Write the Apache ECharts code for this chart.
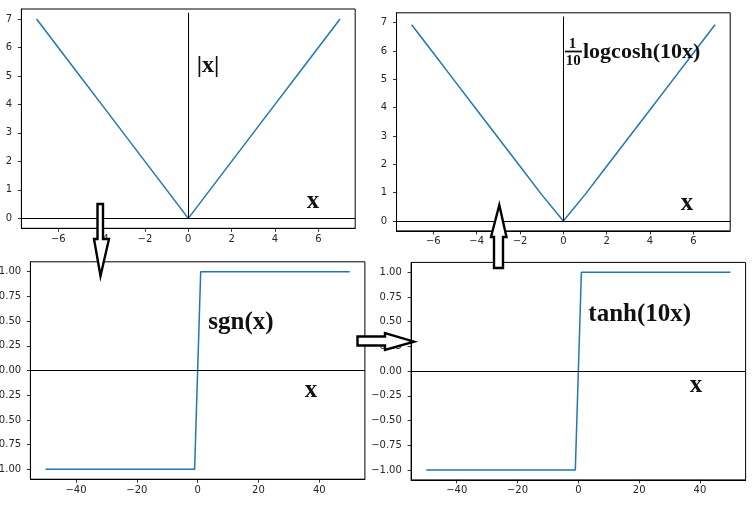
<!DOCTYPE html>
<html>
<head>
<meta charset="utf-8">
<script src="https://cdn.jsdelivr.net/npm/echarts@6/dist/echarts.min.js"></script>
<style>
html,body{margin:0;padding:0;background:#fff;}
#c{width:752px;height:510px;}
</style>
</head>
<body>
<div id="c"></div>
<script>
// ---- data ----
const absX = [-7,-6,-5,-4,-3,-2,-1,0,1,2,3,4,5,6,7];
const absY = [7,6,5,4,3,2,1,0,1,2,3,4,5,6,7];
const logcoshX = [-7,-6,-5,-4,-3,-2,-1,0,1,2,3,4,5,6,7];
const logcoshY = [6.93,5.93,4.93,3.93,2.93,1.93,0.93,0,0.93,1.93,2.93,3.93,4.93,5.93,6.93];
const sgnX = [-50,-1,0,1,50];
const sgnY = [-1,-1,0,1,1];
const tanhX = [-50,-1,0,1,50];
const tanhY = [-1,-1,0,1,1];
const topXTicks = [-6,-4,-2,0,2,4,6];
const topYTicks = [0,1,2,3,4,5,6,7];
const botXTicks = [-40,-20,0,20,40];
const botYTicks = [-1,-0.75,-0.5,-0.25,0,0.25,0.5,0.75,1];
const labels = ['|x|','1','10','logcosh(10x)','sgn(x)','tanh(10x)','x'];

function pairs(xs, ys){ return xs.map((x,i)=>[x, ys[i]]); }
const minus = v => (v < 0 ? '\u2212' : '') + Math.abs(v);
const minus2 = v => (v < 0 ? '\u2212' : '') + Math.abs(v).toFixed(2);

const tickFont = {fontFamily:'DejaVu Sans', fontSize:10, color:'#262626'};

function xAx(gi, min, max, ticks){
  return {type:'value', gridIndex:gi, min:min, max:max,
    splitLine:{show:false},
    axisLine:{show:true, onZero:false, lineStyle:{color:'#000', width:1}},
    axisTick:{show:true, length:3.5, customValues:ticks, lineStyle:{color:'#000', width:0.8}},
    axisLabel:Object.assign({customValues:ticks, formatter:minus, margin:6}, tickFont)};
}
function yAx(gi, min, max, ticks, fmt){
  return {type:'value', gridIndex:gi, min:min, max:max,
    splitLine:{show:false},
    axisLine:{show:true, onZero:false, lineStyle:{color:'#000', width:1}},
    axisTick:{show:true, length:3.5, customValues:ticks, lineStyle:{color:'#000', width:0.8}},
    axisLabel:Object.assign({customValues:ticks, formatter:fmt, margin:9.3}, tickFont)};
}
const hLine = {symbol:'none', silent:true, label:{show:false}, lineStyle:{color:'#000', width:1, type:'solid'}};

function series(gi, xs, ys, vTop){
  const ml = Object.assign({}, hLine, {data: vTop ? [{yAxis:0}, [{coord:[0,0]},{coord:[0,vTop]}]] : [{yAxis:0}]});
  return {type:'line', xAxisIndex:gi, yAxisIndex:gi, data:pairs(xs, ys), showSymbol:false,
    lineStyle:{color:'#1f77b4', width:1.5}, itemStyle:{color:'#1f77b4'}, markLine:ml, animation:false};
}

function txt(t, x, y, size, align){
  return {type:'text', z:100, x:x, y:y, style:{text:t, fill:'#111', font:'bold '+size+'px "Liberation Serif"', textAlign:align||'left', textVerticalAlign:'middle'}};
}
function arrow(pts){
  return {type:'polygon', z:100, shape:{points:pts}, style:{fill:'#fff', stroke:'#000', lineWidth:2.4}};
}
function grid(l, t, w, h){
  return {left:l, top:t, width:w, height:h, show:true, borderColor:'#000', borderWidth:1,
    backgroundColor:'transparent', containLabel:false, outerBoundsMode:'none'};
}

const option = {
  backgroundColor:'#fff',
  animation:false,
  grid:[
    grid(21.4, 9, 333.8, 219.3),
    grid(396.5, 12.8, 333.7, 218.1),
    grid(30.4, 261.8, 334.5, 217.4),
    grid(411.1, 262.4, 334.5, 217.5)
  ],
  xAxis:[
    xAx(0, -7.7, 7.7, topXTicks),
    xAx(1, -7.7, 7.7, topXTicks),
    xAx(2, -55, 55, botXTicks),
    xAx(3, -55, 55, botXTicks)
  ],
  yAxis:[
    yAx(0, -0.35, 7.35, topYTicks, minus),
    yAx(1, -0.35, 7.35, topYTicks, minus),
    yAx(2, -1.1, 1.1, botYTicks, minus2),
    yAx(3, -1.1, 1.1, botYTicks, minus2)
  ],
  series:[
    series(0, absX, absY, 7.22),
    series(1, logcoshX, logcoshY, 7.22),
    series(2, sgnX, sgnY, null),
    series(3, tanhX, tanhY, null)
  ],
  graphic:[
    txt(labels[0], 196.7, 66, 24),
    txt(labels[6], 313, 202, 25, 'center'),
    txt(labels[1], 572.5, 44, 15, 'center'),
    {type:'rect', z:100, shape:{x:565, y:50.6, width:17, height:1.8}, style:{fill:'#111'}},
    txt(labels[2], 573.3, 61, 15, 'center'),
    txt(labels[3], 583, 52, 22),
    txt(labels[6], 687, 204, 25, 'center'),
    txt(labels[4], 208.3, 323, 25),
    txt(labels[6], 311, 390.5, 25, 'center'),
    txt(labels[5], 588.3, 314.5, 25),
    txt(labels[6], 696, 386, 25, 'center'),
    arrow([[97.5,204],[103,204],[103,239],[109,239],[100.5,276],[94,239],[97.5,239]]),
    arrow([[357.5,336.5],[385,336.5],[385,333],[414,341.7],[385,350],[385,345.5],[357.5,345.5]]),
    arrow([[494,268],[503,268],[503,237],[506.5,237],[499.3,205],[491,237],[494,237]])
  ]
};
const chart = echarts.init(document.getElementById('c'), null, {renderer:'canvas'});
chart.setOption(option);
</script>
</body>
</html>
